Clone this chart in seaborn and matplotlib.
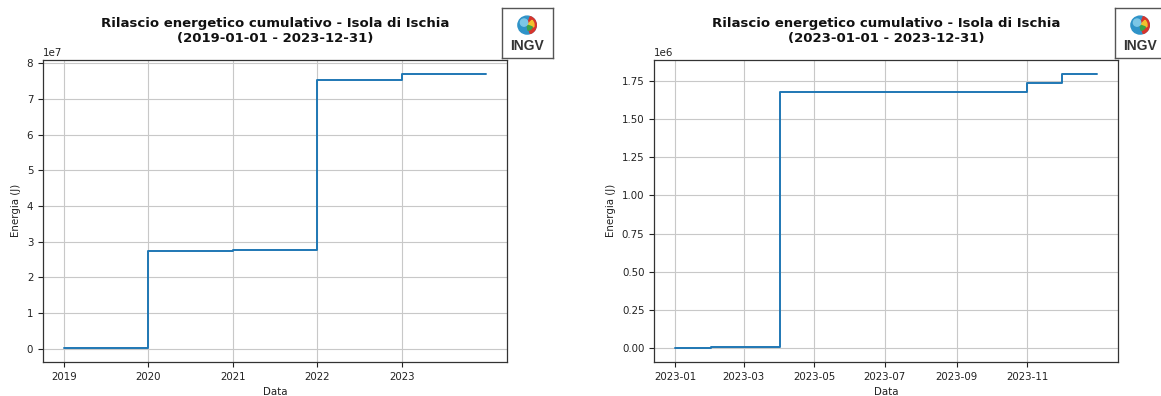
import numpy as np
import pandas as pd
import seaborn as sns
import matplotlib.pyplot as plt
import matplotlib.dates as mdates
from matplotlib.patches import Circle, Wedge

sns.set_style("white")
plt.rcParams['font.family'] = ['DejaVu Sans']
plt.rcParams['text.color'] = '#111111'
fontsize = 7.4

# cumulative energy, whole period (yearly steps)
dates_all = ['2019-01-01', '2020-01-01', '2021-01-01', '2022-01-01', '2023-01-01', '2023-12-31']
energy_all = [0.018e7, 2.74e7, 2.76e7, 7.52e7, 7.71e7, 7.71e7]
ticks_all = ['2019-01-01', '2020-01-01', '2021-01-01', '2022-01-01', '2023-01-01']

# cumulative energy, 2023 only (monthly steps)
dates_2023 = ['2023-01-01', '2023-02-01', '2023-03-01', '2023-04-01', '2023-05-01', '2023-06-01',
              '2023-07-01', '2023-08-01', '2023-09-01', '2023-10-01', '2023-11-01', '2023-12-01',
              '2023-12-31']
energy_2023 = [0.0, 0.005e6, 0.005e6, 1.673e6, 1.673e6, 1.673e6, 1.673e6, 1.673e6,
               1.673e6, 1.673e6, 1.733e6, 1.797e6, 1.797e6]
ticks_2023 = ['2023-01-01', '2023-03-01', '2023-05-01', '2023-07-01', '2023-09-01', '2023-11-01']

titles = ['Rilascio energetico cumulativo - Isola di Ischia\n(2019-01-01 - 2023-12-31)',
          'Rilascio energetico cumulativo - Isola di Ischia\n(2023-01-01 - 2023-12-31)']

df1 = pd.DataFrame({'Data': pd.to_datetime(dates_all), 'Energia': energy_all})
df2 = pd.DataFrame({'Data': pd.to_datetime(dates_2023), 'Energia': energy_2023})

fig, axes = plt.subplots(1, 2, figsize=(11.61, 3.96), dpi=100)
fig.subplots_adjust(left=0.037, right=0.963, bottom=0.086, top=0.849, wspace=0.3175)

for ax, df, title, ticks, fmt in zip(axes, [df1, df2], titles, [ticks_all, ticks_2023], ['%Y', '%Y-%m']):
    sns.lineplot(data=df, x='Data', y='Energia', ax=ax, drawstyle='steps-post',
                 color='#1f77b4', linewidth=1.4)
    ax.set_title(title, fontsize=9.5, fontweight='bold', pad=13, color='#111111')
    ax.set_xlabel('Data', fontsize=fontsize, color='#222222')
    ax.set_ylabel('Energia (J)', fontsize=fontsize, color='#222222')
    ax.set_xticks(pd.to_datetime(ticks))
    ax.xaxis.set_major_formatter(mdates.DateFormatter(fmt))
    ax.tick_params(axis='both', labelsize=fontsize, length=3.5, width=0.8,
                   left=True, bottom=True, colors='#222222')
    ax.yaxis.get_offset_text().set_fontsize(fontsize)
    ax.grid(True, color='#c8c8c8', linewidth=0.8)
    for sp in ax.spines.values():
        sp.set_color('#333333')
        sp.set_linewidth(0.9)


# INGV logo boxes
def draw_logo(x0):
    lax = fig.add_axes([x0, 0.8535, 0.044, 0.126])
    lax.set_xlim(0, 1)
    lax.set_ylim(0, 1)
    lax.set_xticks([])
    lax.set_yticks([])
    for sp in lax.spines.values():
        sp.set_color('#555555')
        sp.set_linewidth(1.0)
    lax.set_facecolor('white')
    cx, cy, r = 0.5, 0.66, 0.18
    lax.add_patch(Circle((cx, cy), r, color='#2f93c8'))
    lax.add_patch(Wedge((cx, cy), r, -70, 70, color='#d8342b'))
    lax.add_patch(Wedge((cx, cy), r * 0.75, -15, 45, color='#f2c12e'))
    lax.add_patch(Wedge((cx, cy), r * 0.6, -80, -20, color='#3aa34a'))
    lax.add_patch(Circle((cx - 0.06, cy + 0.05), r * 0.4, color='#7cc6e6'))
    lax.text(0.5, 0.24, 'INGV', ha='center', va='center', fontsize=10, fontweight='bold',
             family=['Liberation Sans', 'DejaVu Sans'], color='#333333')


draw_logo(0.432)
draw_logo(0.960)

plt.savefig('out.png', dpi=100)
